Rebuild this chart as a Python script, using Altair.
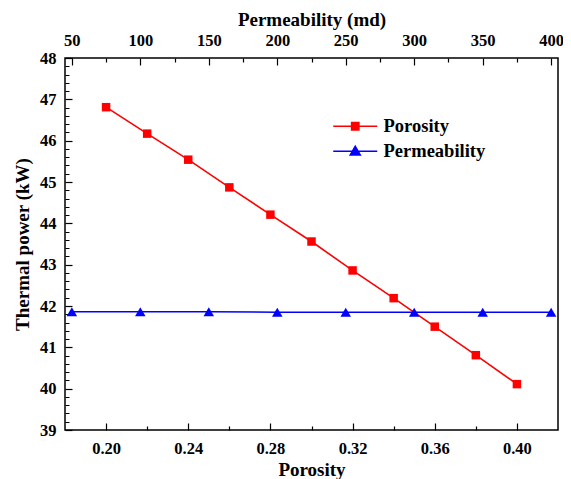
import altair as alt
import pandas as pd

# ---- data ----
porosity = [0.20, 0.22, 0.24, 0.26, 0.28, 0.30, 0.32, 0.34, 0.36, 0.38, 0.40]
porosity_power = [46.81, 46.17, 45.54, 44.87, 44.21, 43.56, 42.86, 42.19, 41.50, 40.81, 40.11]

permeability = [50, 100, 150, 200, 250, 300, 350, 400]
permeability_power = [41.86, 41.86, 41.86, 41.85, 41.85, 41.85, 41.85, 41.85]

series = ["Porosity", "Permeability"]
series_colors = ["#ff0000", "#0000ff"]

# axis tick values (major + minor)
porosity_ticks = [0.20, 0.22, 0.24, 0.26, 0.28, 0.30, 0.32, 0.34, 0.36, 0.38, 0.40]
permeability_ticks = [50, 75, 100, 125, 150, 175, 200, 225, 250, 275, 300, 325, 350, 375, 400]
power_major = [39, 40, 41, 42, 43, 44, 45, 46, 47, 48]
power_ticks = sorted(set([round(m + 0.2 * k, 1) for m in power_major[:-1] for k in range(5)] + [48]))

FONT = "Liberation Serif"
MINOR_DASH = [0, 3, 4]
TICK = 7

df_por = pd.DataFrame({"porosity": porosity, "power": porosity_power})
df_perm = pd.DataFrame({"permeability": permeability, "power": permeability_power})
df_series = pd.DataFrame({"series": series})

y_scale = alt.Scale(domain=[39, 48], nice=False, zero=False)


def y_axis():
    return alt.Axis(
        title="Thermal power (kW)",
        values=power_ticks,
        tickCount=200,
        format=".1f",
        labelExpr="abs(datum.value - round(datum.value)) < 0.001 ? format(datum.value, 'd') : ''",
        tickDash={"condition": {"test": "abs(datum.value - round(datum.value)) > 0.001",
                                "value": MINOR_DASH}, "value": []},
        offset=-TICK,
        labelPadding=9,
        titlePadding=7,
        labelOverlap=False,
        labelFlush=False,
    )


red = alt.Chart(df_por).mark_line(
    color="#ff0000", strokeWidth=1.6,
    point=alt.OverlayMarkDef(shape="square", size=72, filled=True, color="#ff0000", opacity=1),
).encode(
    x=alt.X("porosity:Q",
            scale=alt.Scale(domain=[0.18, 0.42], nice=False, zero=False),
            axis=alt.Axis(
                orient="bottom",
                title="Porosity",
                values=porosity_ticks,
                tickCount=200,
                format=".2f",
                labelExpr="abs(datum.value*25 - round(datum.value*25)) < 0.001 ? datum.label : ''",
                tickDash={"condition": {"test": "abs(datum.value*25 - round(datum.value*25)) > 0.001",
                                        "value": MINOR_DASH}, "value": []},
                offset=-TICK,
                labelPadding=10,
                titlePadding=4,
                labelOverlap=False,
                labelFlush=False,
            )),
    y=alt.Y("power:Q", scale=y_scale, axis=y_axis()),
)

blue = alt.Chart(df_perm).mark_line(
    color="#0000ff", strokeWidth=1.6,
    point=alt.OverlayMarkDef(shape="triangle-up", size=110, filled=True, color="#0000ff", opacity=1),
).encode(
    x=alt.X("permeability:Q",
            scale=alt.Scale(domain=[45, 405], nice=False, zero=False),
            axis=alt.Axis(
                orient="top",
                title="Permeability (md)",
                values=permeability_ticks,
                tickCount=200,
                format="d",
                labelExpr="datum.value % 50 == 0 ? datum.label : ''",
                tickDash={"condition": {"test": "datum.value % 50 != 0",
                                        "value": MINOR_DASH}, "value": []},
                offset=-TICK,
                labelPadding=10,
                titlePadding=3,
                labelOverlap=False,
                labelFlush=False,
            )),
    y=alt.Y("power:Q", scale=y_scale, axis=y_axis()),
)

# legend layer: symbols combine a line segment with the marker
sym_square = "M-2.75,0H2.75M-0.45,-0.45H0.45V0.45H-0.45Z"
sym_triangle = "M-2.75,0H2.75M0,-0.62L0.62,0.45L-0.62,0.45Z"

legend_layer = alt.Chart(df_series).mark_point(filled=True, strokeWidth=1.6, opacity=1).encode(
    fill=alt.Fill("series:N", scale=alt.Scale(domain=series, range=series_colors), title=None),
    stroke=alt.Stroke("series:N", scale=alt.Scale(domain=series, range=series_colors), title=None),
    shape=alt.Shape("series:N", scale=alt.Scale(domain=series, range=[sym_square, sym_triangle]), title=None),
).transform_filter("false")

chart = alt.layer(red, blue, legend_layer).resolve_scale(
    x="independent"
).properties(
    width=493, height=372,
    autosize=alt.AutoSizeParams(type="none"),
    padding={"left": 57, "top": 50, "right": 5, "bottom": 49},
).configure_view(
    stroke="black", strokeWidth=1.5
).configure_axis(
    domain=False, grid=False,
    tickSize=TICK, tickWidth=1.2, tickColor="black",
    labelFont=FONT, labelFontSize=16.5, labelFontWeight="bold", labelColor="black",
    labelOverlap=False,
    titleFont=FONT, titleFontSize=19, titleFontWeight="bold", titleColor="black",
).configure_legend(
    orient="none", legendX=281, legendY=59, padding=0,
    symbolSize=256, symbolStrokeWidth=1.6, symbolOpacity=1,
    labelFont=FONT, labelFontSize=18.5, labelFontWeight="bold", labelColor="black",
    labelOffset=19, rowPadding=6, labelLimit=300,
)

chart.save("out.html", embed_options={"renderer": "svg", "actions": False})
